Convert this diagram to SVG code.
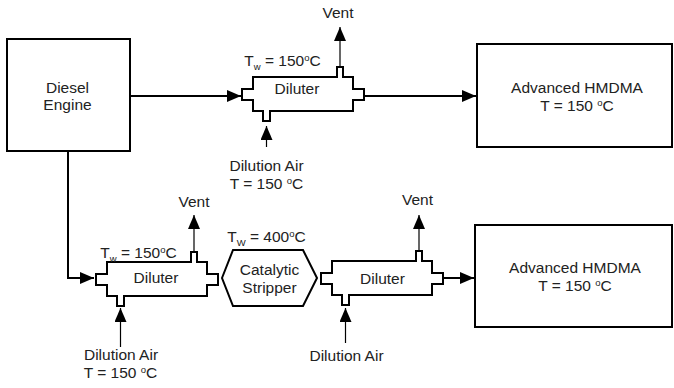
<svg xmlns="http://www.w3.org/2000/svg" xmlns:xlink="http://www.w3.org/1999/xlink" width="674" height="388" viewBox="0 0 674 388">
<defs>
<style>
text{font-family:"Liberation Sans",Arial,sans-serif;font-size:15.5px;fill:#222;text-anchor:middle}
.box{fill:#fff;stroke:#000;stroke-width:2}
.shape{fill:#fff;stroke:#000;stroke-width:2;stroke-linejoin:miter}
.conn{fill:none;stroke:#000;stroke-width:2}
.thin{fill:none;stroke:#000;stroke-width:1.2}
.sm{font-size:9.5px}
</style>
<marker id="arr" viewBox="0 0 14 12" markerWidth="14" markerHeight="12" refX="14" refY="6" orient="auto" markerUnits="userSpaceOnUse">
<path d="M0,0 L14,6 L0,12 Z" fill="#000"/>
</marker>
<path id="diluterShape" class="shape" d="M0,0 H84 V-10 H90 V0 H100 V12 H111 V23 H100 V34 H17 V44 H10 V34 H0 V23 H-11 V12 H0 Z"/>
</defs>
<rect width="674" height="388" fill="#fff"/>

<g id="connectors">
<path class="conn" d="M130,96 H241" marker-end="url(#arr)"/>
<path class="conn" d="M364,96 H476" marker-end="url(#arr)"/>
<path class="conn" d="M68,151 V278 H94" marker-end="url(#arr)"/>
<path class="conn" d="M443,278 H474" marker-end="url(#arr)"/>
<path class="thin" d="M340,67 V27" marker-end="url(#arr)"/>
<path class="thin" d="M194,252 V215" marker-end="url(#arr)"/>
<path class="thin" d="M419,251 V215" marker-end="url(#arr)"/>
<path class="thin" d="M266.5,147 V126" marker-end="url(#arr)"/>
<path class="thin" d="M120.5,347 V308" marker-end="url(#arr)"/>
<path class="thin" d="M345.5,343 V308" marker-end="url(#arr)"/>
</g>

<g id="diesel-engine">
<rect class="box" x="7" y="39" width="123" height="112"/>
<text x="67.5" y="93">Diesel</text>
<text x="67.5" y="110">Engine</text>
</g>

<g id="diluter-top">
<use xlink:href="#diluterShape" transform="translate(253,77)"/>
<text x="297" y="94">Diluter</text>
<text x="282.5" y="66">T<tspan class="sm" dy="4">w</tspan><tspan dy="-4"> = 150</tspan><tspan class="sm" dy="-5">o</tspan><tspan dy="5">C</tspan></text>
</g>

<g id="vent-top">
<text x="338" y="18">Vent</text>
</g>

<g id="dilution-air-top">
<text x="266.5" y="171">Dilution Air</text>
<text x="266.5" y="189">T = 150 <tspan class="sm" dy="-5">o</tspan><tspan dy="5">C</tspan></text>
</g>

<g id="hmdma-top">
<rect class="box" x="477" y="44" width="195" height="103"/>
<text x="577" y="93">Advanced HMDMA</text>
<text x="577" y="111">T = 150 <tspan class="sm" dy="-5">o</tspan><tspan dy="5">C</tspan></text>
</g>

<g id="diluter-bottom-left">
<use xlink:href="#diluterShape" transform="translate(107,262)"/>
<text x="156" y="283">Diluter</text>
<text x="138.5" y="258">T<tspan class="sm" dy="4">w</tspan><tspan dy="-4"> = 150</tspan><tspan class="sm" dy="-5">o</tspan><tspan dy="5">C</tspan></text>
</g>

<g id="vent-bottom-left">
<text x="194" y="207">Vent</text>
</g>

<g id="dilution-air-bottom-left">
<text x="121" y="360">Dilution Air</text>
<text x="120.5" y="378">T = 150 <tspan class="sm" dy="-5">o</tspan><tspan dy="5">C</tspan></text>
</g>

<g id="catalytic-stripper">
<path class="shape" d="M222,278 L233,250 H303 L317,278 L303,306 H233 Z"/>
<text x="269.5" y="275">Catalytic</text>
<text x="269.5" y="293">Stripper</text>
<text x="266.5" y="242">T<tspan class="sm" dy="4">W</tspan><tspan dy="-4"> = 400</tspan><tspan class="sm" dy="-5">o</tspan><tspan dy="5">C</tspan></text>
</g>

<g id="diluter-bottom-right">
<use xlink:href="#diluterShape" transform="translate(332,261)"/>
<text x="382.5" y="284">Diluter</text>
</g>

<g id="vent-bottom-right">
<text x="417.5" y="205">Vent</text>
</g>

<g id="dilution-air-bottom-right">
<text x="346.5" y="361">Dilution Air</text>
</g>

<g id="hmdma-bottom">
<rect class="box" x="475" y="225" width="197" height="102"/>
<text x="575" y="273">Advanced HMDMA</text>
<text x="575" y="291">T = 150 <tspan class="sm" dy="-5">o</tspan><tspan dy="5">C</tspan></text>
</g>
</svg>
